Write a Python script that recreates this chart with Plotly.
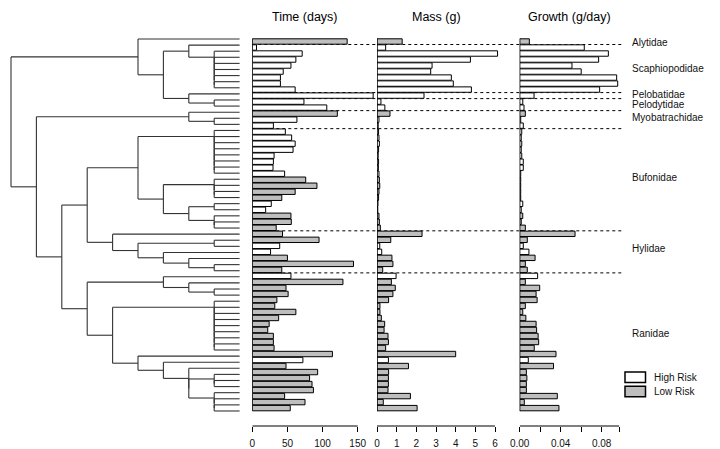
import plotly.graph_objects as go

W, H = 720, 449
FONT = "Liberation Sans, Arial, Helvetica, sans-serif"

# ---------------- data ----------------
families = ["Alytidae", "Scaphiopodidae", "Pelobatidae", "Pelodytidae",
            "Myobatrachidae", "Bufonidae", "Hylidae", "Ranidae"]
family_sizes = [1, 8, 1, 2, 3, 17, 7, 23]
family_label_rows = [1.1, 5.5, 9.8, 11.4, 13.7, 23.7, 35.5, 49.6]

# H = high risk (white), L = low risk (grey), one per species (row 1 = top)
risk = list("L" + "H" * 11 + "L" + "HH" + "H" * 8 + "LLLL" + "HH" + "LLL"
            + "LLHHLLL" + "H" + "L" * 13 + "H" + "L" * 8)

time_days = [135, 6, 71, 62, 55, 44, 40, 40, 61, 172,
             73.5, 106, 121, 63.5, 30, 47, 56, 61, 58, 31,
             30, 29.5, 46, 76, 92, 61, 42, 27, 19, 55,
             55.5, 34, 43, 95, 39, 26, 50, 144, 42, 55,
             129, 48, 51, 35, 32, 62, 37.5, 24, 22, 30,
             30, 31, 114, 72, 48, 93, 81.5, 85, 87, 46,
             75, 54]

mass_g = [1.28, 0.44, 6.13, 4.75, 2.8, 2.73, 3.78, 3.88, 4.8, 2.39,
          0.2, 0.4, 0.66, 0.1, 0.06, 0.08, 0.1, 0.12, 0.08, 0.06,
          0.08, 0.07, 0.1, 0.12, 0.14, 0.1, 0.08, 0.05, 0.04, 0.1,
          0.12, 0.17, 2.29, 0.7, 0.14, 0.24, 0.76, 0.81, 0.29, 0.97,
          0.73, 0.93, 0.81, 0.59, 0.15, 0.15, 0.22, 0.39, 0.36, 0.56,
          0.58, 0.44, 4.0, 0.58, 1.6, 0.59, 0.58, 0.58, 0.56, 1.7,
          0.32, 2.04]

growth_g_day = [0.0094, 0.063, 0.0865, 0.077, 0.051, 0.060, 0.0946, 0.0956, 0.078, 0.014,
                0.003, 0.0042, 0.0055, 0.001, 0.0035, 0.002, 0.0015, 0.002, 0.0015, 0.002,
                0.0035, 0.0035, 0.001, 0.001, 0.001, 0.001, 0.001, 0.003, 0.0015, 0.003,
                0.0015, 0.0055, 0.054, 0.0074, 0.0035, 0.009, 0.015, 0.0055, 0.0074, 0.0175,
                0.0055, 0.0195, 0.016, 0.017, 0.0055, 0.003, 0.006, 0.016, 0.0165, 0.018,
                0.0185, 0.0142, 0.0354, 0.0084, 0.033, 0.0065, 0.007, 0.0065, 0.0065, 0.0367,
                0.0045, 0.0383]

time_ticks = [0, 50, 100, 150]
time_labels = ["0", "50", "100", "150"]
mass_ticks = [0, 1, 2, 3, 4, 5, 6]
mass_labels = ["0", "1", "2", "3", "4", "5", "6"]
growth_ticks = [0, 0.02, 0.04, 0.06, 0.08, 0.097]
growth_labels = ["0.00", "", "0.04", "", "0.08", ""]

panel_titles = ["Time (days)", "Mass (g)", "Growth (g/day)"]
legend_labels = ["High Risk", "Low Risk"]


# tree topology: (node depth level, [children]); ints are tip rows
def N(level, *children):
    return (level, list(children))


def ladder(level, rows):
    if len(rows) == 2:
        return N(level, rows[0], rows[1])
    return N(level, rows[0], ladder(level, rows[1:]))


TIP_LEVEL = 9
tree = N(0,
         N(5, 1,
           N(6,
             N(7, 2, ladder(8, list(range(3, 10)))),
             N(7, 10, N(8, 11, 12)))),
         N(1,
           N(7, 13, N(8, 14, 15)),
           N(2,
             N(3,
               N(5,
                 ladder(8, list(range(16, 24))),
                 N(6,
                   ladder(8, list(range(24, 28))),
                   N(7, N(8, 28, 29), ladder(8, [30, 31, 32])))),
               N(4, 33,
                 N(5,
                   N(8, 34, 35),
                   N(6, 36, N(7, 37, N(8, 38, 39)))))),
             N(3,
               N(6, 40, N(7, 41, N(8, 42, 43))),
               N(4,
                 ladder(8, list(range(44, 53))),
                 N(5, 53,
                   N(6, 54,
                     N(7, 55,
                       N(7, ladder(8, [56, 57, 58]),
                         ladder(8, [59, 60, 61, 62]))))))))))

# ---------------- geometry ----------------
n_rows = len(time_days)
fill = ["white" if r == "H" else "#bebebe" for r in risk]

tree_x0_px, tree_step_px = 11.0, 25.4
tree_y0_px, tree_dy_px = 39.0, 6.098
tree_dom_px = 246.0
bar_y0_px, bar_dy_px = 41.5, 6.01
axis_px = 426.0
t0_px, t_scale = 252.3, 0.7027
m0_px, m_scale = 377.0, 19.667
g0_px, g_scale = 519.7, 1025.0
t_end_px, m_end_px = 376.0, 517.0

ybot = (H - axis_px) / H
bar_ytop = 1 - bar_y0_px / bar_dy_px
bar_ybot = bar_ytop + axis_px / bar_dy_px
tree_ytop = 1 - tree_y0_px / tree_dy_px
tree_ybot = tree_ytop + H / tree_dy_px

# ---------------- tree segments ----------------
xs, ys = [], []


def walk(node):
    if isinstance(node, int):
        return TIP_LEVEL, node
    level, ch = node
    pos = [walk(c) for c in ch]
    cy = [p[1] for p in pos]
    xs.extend([level, level, None])
    ys.extend([cy[0], cy[-1], None])
    for px_, py_ in pos:
        xs.extend([level, px_, None])
        ys.extend([py_, py_, None])
    return level, (cy[0] + cy[-1]) / 2


walk(tree)

rows = list(range(1, n_rows + 1))
fig = go.Figure()
fig.add_trace(go.Scatter(x=xs, y=ys, mode="lines", xaxis="x", yaxis="y",
                         line=dict(color="#333333", width=1.1),
                         hoverinfo="skip", showlegend=False))

for vals, xa in [(time_days, "x2"), (mass_g, "x3"), (growth_g_day, "x4")]:
    fig.add_trace(go.Bar(x=vals, y=rows, orientation="h", xaxis=xa, yaxis="y2",
                         width=0.9, marker=dict(color=fill, line=dict(color="black", width=1)),
                         showlegend=False))

shapes = []
bounds = []
acc = 0
for s in family_sizes[:-1]:
    acc += s
    bounds.append(acc + 0.5)
for b in bounds:
    shapes.append(dict(type="line", xref="paper", yref="y2",
                       x0=t0_px / W, x1=623 / W, y0=b, y1=b, layer="below",
                       line=dict(color="black", width=1, dash="dot")))

for xa, ticks in [("x2", time_ticks), ("x3", mass_ticks), ("x4", growth_ticks)]:
    shapes.append(dict(type="line", xref=xa, yref="y2", x0=0, x1=0,
                       y0=0.5, y1=n_rows + 0.5, line=dict(color="black", width=1)))
    shapes.append(dict(type="line", xref=xa, yref="paper", x0=min(ticks), x1=max(ticks),
                       y0=ybot, y1=ybot, line=dict(color="black", width=1)))

annotations = []
for title, xa, ticks in zip(panel_titles, ["x2", "x3", "x4"],
                            [time_ticks, mass_ticks, growth_ticks]):
    annotations.append(dict(text=title, xref=xa, yref="paper",
                            x=(min(ticks) + max(ticks)) / 2, y=1 - 17 / H,
                            showarrow=False, xanchor="center", yanchor="middle",
                            font=dict(size=12.5, color="black", family=FONT)))

for fam, yr in zip(families, family_label_rows):
    annotations.append(dict(text=fam, xref="paper", yref="y2", x=630 / W, y=yr,
                            showarrow=False, xanchor="left", yanchor="middle",
                            font=dict(size=10, color="#111111", family=FONT)))

for i, (lab, col) in enumerate(zip(legend_labels, ["white", "#bebebe"])):
    ytop_px = 372 + i * 14.3
    shapes.append(dict(type="rect", xref="paper", yref="paper",
                       x0=625 / W, x1=645.5 / W,
                       y0=1 - ytop_px / H, y1=1 - (ytop_px + 10.5) / H,
                       fillcolor=col, line=dict(color="black", width=1.5)))
    annotations.append(dict(text=lab, xref="paper", yref="paper",
                            x=652 / W, y=1 - (ytop_px + 5.3) / H, showarrow=False,
                            xanchor="left", yanchor="middle",
                            font=dict(size=10, color="#111111", family=FONT)))


def xaxis(domain, rng, ticks=None, labels=None):
    d = dict(domain=domain, range=rng, showgrid=False, zeroline=False,
             showline=False, fixedrange=True, automargin=False)
    if ticks is None:
        d.update(visible=False)
    else:
        d.update(anchor="y2", tickmode="array", tickvals=ticks, ticktext=labels,
                 ticks="outside", ticklen=5, tickwidth=1, tickcolor="black",
                 ticklabelstandoff=3,
                 tickfont=dict(size=10, color="#111111", family=FONT))
    return d


fig.update_layout(
    template="none",
    width=W, height=H,
    margin=dict(l=0, r=0, t=0, b=0, pad=0, autoexpand=False),
    paper_bgcolor="white", plot_bgcolor="rgba(0,0,0,0)",
    showlegend=False, barmode="overlay",
    xaxis=dict(domain=[0, tree_dom_px / W],
               range=[-tree_x0_px / tree_step_px, (tree_dom_px - tree_x0_px) / tree_step_px],
               visible=False, fixedrange=True, automargin=False),
    yaxis=dict(domain=[0, 1], range=[tree_ybot, tree_ytop], visible=False,
               fixedrange=True, automargin=False),
    xaxis2=xaxis([t0_px / W, t_end_px / W], [0, (t_end_px - t0_px) / t_scale],
                 time_ticks, time_labels),
    xaxis3=xaxis([m0_px / W, m_end_px / W], [0, (m_end_px - m0_px) / m_scale],
                 mass_ticks, mass_labels),
    xaxis4=xaxis([g0_px / W, 1], [0, (W - g0_px) / g_scale],
                 growth_ticks, growth_labels),
    yaxis2=dict(domain=[ybot, 1], range=[bar_ybot, bar_ytop], visible=False,
                fixedrange=True, automargin=False),
    shapes=shapes, annotations=annotations,
    font=dict(family=FONT),
)

fig.write_html("out.html", config={"displayModeBar": False},
               post_script="document.body.style.margin='0';")
